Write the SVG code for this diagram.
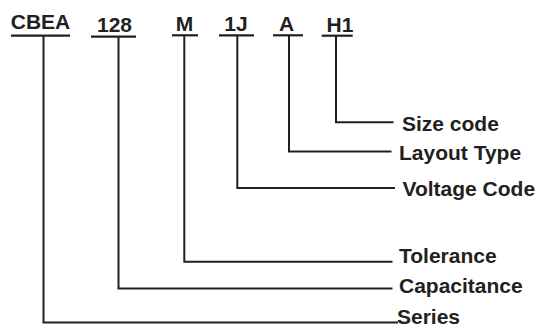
<svg xmlns="http://www.w3.org/2000/svg" width="538" height="328" viewBox="0 0 538 328">
<style>
  .t{font-family:"Liberation Sans",Arial,Helvetica,sans-serif;font-weight:bold;font-size:21px;fill:#231f20}
  .c{text-anchor:middle}
  .u{stroke:#231f20;stroke-width:2.2;fill:none}
  .ln{stroke:#231f20;stroke-width:2;fill:none;stroke-linejoin:miter;stroke-linecap:square}
</style>
<rect width="538" height="328" fill="#ffffff"/>
<g id="code-series">
  <text class="t c" x="40.5" y="29">CBEA</text>
  <line class="u" x1="11" y1="35.7" x2="70" y2="35.7"/>
</g>
<g id="code-capacitance">
  <text class="t c" x="114.5" y="32">128</text>
  <line class="u" x1="91" y1="36.7" x2="136" y2="36.7"/>
</g>
<g id="code-tolerance">
  <text class="t c" x="184.5" y="31">M</text>
  <line class="u" x1="172" y1="35.3" x2="198" y2="35.3"/>
</g>
<g id="code-voltage">
  <text class="t c" x="236" y="31">1J</text>
  <line class="u" x1="219" y1="35.3" x2="254" y2="35.3"/>
</g>
<g id="code-layout">
  <text class="t c" x="286.5" y="31">A</text>
  <line class="u" x1="273" y1="35.3" x2="303" y2="35.3"/>
</g>
<g id="code-size">
  <text class="t c" x="340" y="31.5">H1</text>
  <line class="u" x1="321.7" y1="35.7" x2="352.7" y2="35.7"/>
</g>
<g id="label-size"><text class="t" x="402" y="131">Size code</text></g>
<g id="label-layout"><text class="t" x="399" y="160">Layout Type</text></g>
<g id="label-voltage"><text class="t" x="402.5" y="196">Voltage Code</text></g>
<g id="label-tolerance"><text class="t" x="399" y="263">Tolerance</text></g>
<g id="label-capacitance"><text class="t" x="399" y="293">Capacitance</text></g>
<g id="label-series"><text class="t" x="397" y="324">Series</text></g>
<g id="connectors">
  <polyline class="ln" points="336,36 336,122.3 392.5,122.3"/>
  <polyline class="ln" points="289,36 289,151.5 390.5,151.5"/>
  <polyline class="ln" points="237.3,36 237.3,188 394,188"/>
  <polyline class="ln" points="184.3,36 184.3,261.8 391.5,261.8"/>
  <polyline class="ln" points="118.5,37 118.5,288.5 391.5,288.5"/>
  <polyline class="ln" points="43.5,36 43.5,322.5 397,322.5"/>
</g>
</svg>
